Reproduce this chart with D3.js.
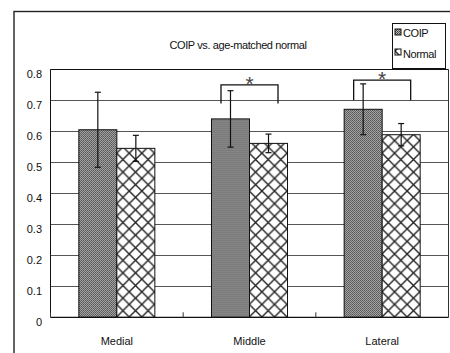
<!DOCTYPE html>
<html>
<head>
<meta charset="utf-8">
<script src="https://cdn.jsdelivr.net/npm/d3@7"></script>
<style>
  body { margin: 0; background: #fff; }
  svg { display: block; font-family: "Liberation Sans", Arial, sans-serif; }
</style>
</head>
<body>
<svg id="chart"></svg>
<script>
var categories = ['Medial', 'Middle', 'Lateral'];
var seriesNames = ['COIP', 'Normal'];
var coipMeans = [0.605, 0.640, 0.671];
var coipSD = [0.121, 0.091, 0.082];
var normalMeans = [0.545, 0.561, 0.589];
var normalSD = [0.042, 0.030, 0.036];
var yTicks = [0, 0.1, 0.2, 0.3, 0.4, 0.5, 0.6, 0.7, 0.8];
// significance brackets: category, bracket top, leg bottom
var sigCats = ['Middle', 'Lateral'];
var sigTop = [0.75, 0.765];
var sigLeg = [0.69, 0.70];

var svg = d3.select('#chart').attr('width', 450).attr('height', 353);

var m_left = 50.5, m_right = 448.5, m_top = 69.3, m_bottom = 317.3;

var rows = categories.map(function(c, i) {
  return {
    cat: c,
    vals: [
      { s: 'COIP', v: coipMeans[i], e: coipSD[i] },
      { s: 'Normal', v: normalMeans[i], e: normalSD[i] }
    ]
  };
});

var x0 = d3.scaleBand()
  .domain(categories)
  .range([m_left, m_right])
  .paddingInner(0.427)
  .paddingOuter(0.2135);

var x1 = d3.scaleBand()
  .domain(seriesNames)
  .range([0, x0.bandwidth()]);

var y = d3.scaleLinear()
  .domain([0, 0.8])
  .range([m_bottom, m_top]);

// patterns
var defs = svg.append('defs');
var dots = defs.append('pattern')
  .attr('id', 'coipPat')
  .attr('patternUnits', 'userSpaceOnUse')
  .attr('width', 2).attr('height', 2);
dots.append('rect').attr('width', 2).attr('height', 2).attr('fill', '#b4b4b4');
dots.append('rect').attr('width', 1).attr('height', 1).attr('fill', '#444');
dots.append('rect').attr('x', 1).attr('y', 1).attr('width', 1).attr('height', 1).attr('fill', '#555');

var hatch = defs.append('pattern')
  .attr('id', 'normalPat')
  .attr('patternUnits', 'userSpaceOnUse')
  .attr('x', 0).attr('y', 2)
  .attr('width', 12.6).attr('height', 12.6);
hatch.append('rect').attr('width', 12.6).attr('height', 12.6).attr('fill', '#fff');
hatch.append('path')
  .attr('d', 'M0,0L12.6,12.6M12.6,0L0,12.6')
  .attr('stroke', '#222')
  .attr('stroke-width', 1.4);

// outer chart frame
svg.append('rect')
  .attr('x', 14).attr('y', 11.5)
  .attr('width', 500).attr('height', 400)
  .attr('fill', 'none')
  .attr('stroke', '#222')
  .attr('stroke-width', 1.4);

// gridlines
svg.append('g').selectAll('line')
  .data(yTicks.slice(1)).enter()
  .append('line')
  .attr('x1', m_left).attr('x2', m_right)
  .attr('y1', function(d) { return Math.round(y(d)) + 0.5; })
  .attr('y2', function(d) { return Math.round(y(d)) + 0.5; })
  .attr('stroke', function(d) { return d === 0.8 ? '#111' : '#555'; })
  .attr('stroke-width', 1);

// plot borders (left, right)
svg.append('line')
  .attr('x1', m_left).attr('x2', m_left)
  .attr('y1', m_top).attr('y2', m_bottom)
  .attr('stroke', '#111');
svg.append('line')
  .attr('x1', m_right).attr('x2', m_right)
  .attr('y1', m_top).attr('y2', m_bottom)
  .attr('stroke', '#333');

// y labels
svg.append('g').selectAll('text')
  .data(yTicks).enter()
  .append('text')
  .attr('x', 42)
  .attr('y', function(d) { return y(d) + 9; })
  .attr('text-anchor', 'end')
  .attr('font-size', 11)
  .attr('fill', '#111')
  .text(function(d) { return d === 0 ? '0' : d.toFixed(1); });

// bars
var groups = svg.append('g').selectAll('g')
  .data(rows).enter()
  .append('g')
  .attr('transform', function(d) { return 'translate(' + x0(d.cat) + ',0)'; });

groups.selectAll('rect')
  .data(function(d) { return d.vals; }).enter()
  .append('rect')
  .attr('x', function(d) { return x1(d.s); })
  .attr('y', function(d) { return y(d.v); })
  .attr('width', x1.bandwidth())
  .attr('height', function(d) { return y(0) - y(d.v); })
  .attr('fill', function(d) { return d.s === 'COIP' ? 'url(#coipPat)' : 'url(#normalPat)'; })
  .attr('stroke', '#111')
  .attr('stroke-width', 1);

// error bars
var errs = groups.selectAll('g.err')
  .data(function(d) { return d.vals; }).enter()
  .append('g').attr('class', 'err')
  .attr('stroke', '#111')
  .attr('stroke-width', 1.2);
errs.append('line')
  .attr('x1', function(d) { return x1(d.s) + x1.bandwidth() / 2; })
  .attr('x2', function(d) { return x1(d.s) + x1.bandwidth() / 2; })
  .attr('y1', function(d) { return y(d.v + d.e); })
  .attr('y2', function(d) { return y(d.v - d.e); });
errs.append('line')
  .attr('x1', function(d) { return x1(d.s) + x1.bandwidth() / 2 - 3; })
  .attr('x2', function(d) { return x1(d.s) + x1.bandwidth() / 2 + 3; })
  .attr('y1', function(d) { return y(d.v + d.e); })
  .attr('y2', function(d) { return y(d.v + d.e); });
errs.append('line')
  .attr('x1', function(d) { return x1(d.s) + x1.bandwidth() / 2 - 3; })
  .attr('x2', function(d) { return x1(d.s) + x1.bandwidth() / 2 + 3; })
  .attr('y1', function(d) { return y(d.v - d.e); })
  .attr('y2', function(d) { return y(d.v - d.e); });

// x axis line and inside ticks
var step = x0.step();
var boundaries = categories.map(function(c) { return x0(c) - (step - x0.bandwidth()) / 2; });
boundaries.push(m_right);
svg.append('line')
  .attr('x1', m_left).attr('x2', m_right)
  .attr('y1', m_bottom).attr('y2', m_bottom)
  .attr('stroke', '#111').attr('stroke-width', 1.3);
svg.append('g').selectAll('line')
  .data(boundaries).enter()
  .append('line')
  .attr('x1', function(d) { return d; })
  .attr('x2', function(d) { return d; })
  .attr('y1', m_bottom - 5).attr('y2', m_bottom)
  .attr('stroke', '#333');

// x labels
svg.append('g').selectAll('text')
  .data(categories).enter()
  .append('text')
  .attr('x', function(d) { return x0(d) + x0.bandwidth() / 2; })
  .attr('y', 345)
  .attr('text-anchor', 'middle')
  .attr('font-size', 11)
  .attr('fill', '#111')
  .text(function(d) { return d; });

// significance brackets
sigCats.forEach(function(c, i) {
  var cx = x0(c) + x0.bandwidth() / 2;
  var hw = x1.bandwidth() * 0.75;
  svg.append('path')
    .attr('d', 'M' + (cx - hw) + ',' + y(sigLeg[i]) + 'V' + y(sigTop[i]) +
      'H' + (cx + hw) + 'V' + y(sigLeg[i]))
    .attr('fill', 'none')
    .attr('stroke', '#111')
    .attr('stroke-width', 1.3);
  svg.append('text')
    .attr('x', cx)
    .attr('y', y(sigTop[i]) + 6)
    .attr('text-anchor', 'middle')
    .attr('font-size', 21)
    .attr('fill', '#444')
    .text('*');
});

// title
svg.append('text')
  .attr('x', 238)
  .attr('y', 49)
  .attr('text-anchor', 'middle')
  .attr('font-size', 11)
  .attr('letter-spacing', -0.4)
  .attr('fill', '#111')
  .text('COIP vs. age-matched normal');

// legend
var legend = svg.append('g');
legend.append('rect')
  .attr('x', 392.5).attr('y', 23.5)
  .attr('width', 53).attr('height', 45)
  .attr('fill', '#fff')
  .attr('stroke', '#111');
var legendItems = legend.selectAll('g.item')
  .data(seriesNames).enter()
  .append('g').attr('class', 'item')
  .attr('transform', function(d, i) { return 'translate(395,' + (29 + i * 20) + ')'; });
legendItems.append('rect')
  .attr('width', 6).attr('height', 6)
  .attr('fill', function(d) { return d === 'COIP' ? 'url(#coipPat)' : 'url(#normalPat)'; })
  .attr('stroke', '#111');
legendItems.append('text')
  .attr('x', 8).attr('y', function(d, i) { return i === 0 ? 8 : 9; })
  .attr('font-size', 11)
  .attr('letter-spacing', -0.4)
  .attr('fill', '#111')
  .text(function(d) { return d; });
</script>
</body>
</html>
